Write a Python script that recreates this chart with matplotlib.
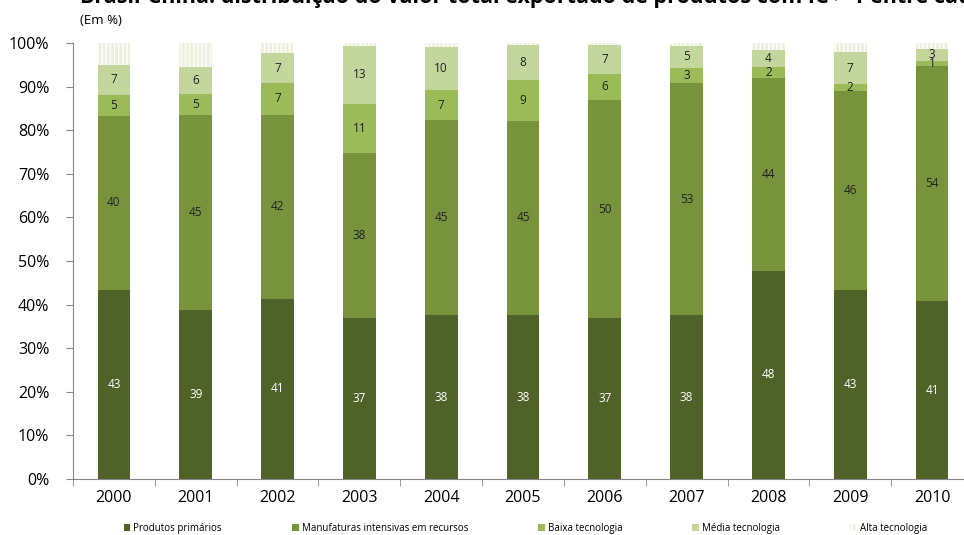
import matplotlib
matplotlib.use("Agg")
import matplotlib.pyplot as plt
import numpy as np

plt.rcParams['font.family'] = ['Open Sans', 'DejaVu Sans']
plt.rcParams['hatch.linewidth'] = 1.0

# data (Em %)
anos = ['2000', '2001', '2002', '2003', '2004', '2005', '2006', '2007', '2008', '2009', '2010']
primarios = [43.3, 38.8, 41.3, 36.9, 37.6, 37.6, 36.9, 37.6, 47.7, 43.4, 40.8]
manufaturas = [40.0, 44.7, 42.2, 37.9, 44.7, 44.6, 50.0, 53.2, 44.3, 45.6, 53.9]
baixa = [4.8, 4.8, 7.3, 11.2, 6.9, 9.4, 6.0, 3.4, 2.5, 1.6, 1.2]
media = [6.9, 6.2, 6.9, 13.4, 9.9, 8.0, 6.6, 5.2, 3.9, 7.3, 2.7]
alta = [5.0, 5.5, 2.3, 0.6, 0.9, 0.4, 0.5, 0.6, 1.6, 2.1, 1.4]

series = [
    ('Produtos primários', primarios, '#4f6228'),
    ('Manufaturas intensivas em recursos', manufaturas, '#77933c'),
    ('Baixa tecnologia', baixa, '#9bbb59'),
    ('Média tecnologia', media, '#c3d69b'),
    ('Alta tecnologia', alta, '#ebf1de'),
]

fig = plt.figure(figsize=(9.64, 5.35), dpi=100)
ax = fig.add_axes([0.0757, 0.1047, 0.9336, 0.815])

x = np.arange(len(anos))
w = 0.40
bottom = np.zeros(len(anos))
for i, (nome, vals, cor) in enumerate(series):
    vals = np.array(vals)
    if i == 4:
        ax.bar(x, vals, w, bottom=bottom, color=cor, edgecolor='white',
               hatch='||||', linewidth=0, label=nome)
    else:
        ax.bar(x, vals, w, bottom=bottom, color=cor, linewidth=0, label=nome)
        tc = 'white' if i == 0 else '#222222'
        for xi, b, v in zip(x, bottom, vals):
            ax.text(xi, b + v / 2, '%d' % round(v), ha='center', va='center',
                    fontsize=8.5, color=tc)
    bottom += vals

ax.set_xlim(-0.5, len(anos) - 0.5)
ax.set_ylim(0, 100)
ax.set_yticks(np.arange(0, 101, 10))
ax.set_yticklabels(['%d%%' % v for v in range(0, 101, 10)], fontsize=11.5)
ax.set_xticks(x)
ax.set_xticklabels(anos, fontsize=11.5)
ax.set_xticks(np.arange(-0.5, len(anos), 1), minor=True)
ax.tick_params(axis='x', which='major', length=0, pad=8)
ax.tick_params(axis='x', which='minor', length=5, color='#888888')
ax.tick_params(axis='y', length=5, color='#888888', pad=12)
for s in ['top', 'right']:
    ax.spines[s].set_visible(False)
for s in ['left', 'bottom']:
    ax.spines[s].set_color('#888888')

fig.text(0.083, 1.004, 'Brasil-China: distribuição do valor total exportado de produtos com IC > 1 entre categorias tecnológicas',
         fontsize=15.5, fontweight='bold', va='center', ha='left')
fig.text(0.083, 0.962, '(Em %)', fontsize=9.5, va='center', ha='left')

fig.legend(loc='center', bbox_to_anchor=(0.545, 0.013), ncol=5, frameon=False,
           fontsize=7, handlelength=0.7, handleheight=0.7, handletextpad=0.3,
           columnspacing=7.2)

fig.savefig('out.png', dpi=100)
